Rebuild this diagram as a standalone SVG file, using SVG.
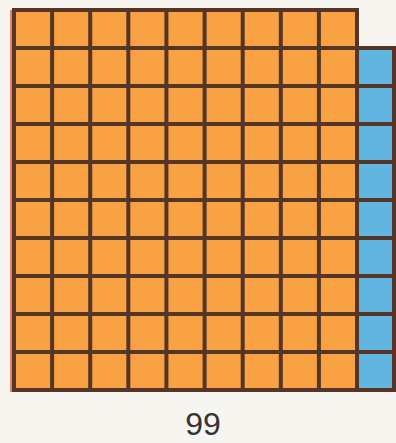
<svg xmlns="http://www.w3.org/2000/svg" width="396" height="443" viewBox="0 0 396 443">
<style>
.o{fill:#f8a243}
.b{fill:#5fb5dd}
.g{stroke:#553626;stroke-width:4;fill:none;stroke-linecap:square}
.t{font-family:"Liberation Sans",Arial,sans-serif;font-size:32px;fill:#333;text-anchor:middle}
</style>
<rect width="396" height="443" fill="#f7f5f0"/>
<rect x="10" y="10" width="4" height="382" fill="#e9806c"/>
<g id="orange">
<rect class="o" x="14" y="10" width="343" height="380"/>
<path class="g" d="M14 10V390M52.1 10V390M90.2 10V390M128.3 10V390M166.4 10V390M204.6 10V390M242.7 10V390M280.8 10V390M318.9 10V390M357 10V390M14 10H357M14 48H357M14 86H357M14 124H357M14 162H357M14 200H357M14 238H357M14 276H357M14 314H357M14 352H357M14 390H357"/>
</g>
<g id="blue">
<rect class="b" x="357" y="48" width="37" height="342"/>
<path class="g" d="M357 48V390M394 48V390M357 48H394M357 86H394M357 124H394M357 162H394M357 200H394M357 238H394M357 276H394M357 314H394M357 352H394M357 390H394"/>
</g>
<text class="t" x="203" y="435">99</text>
</svg>
